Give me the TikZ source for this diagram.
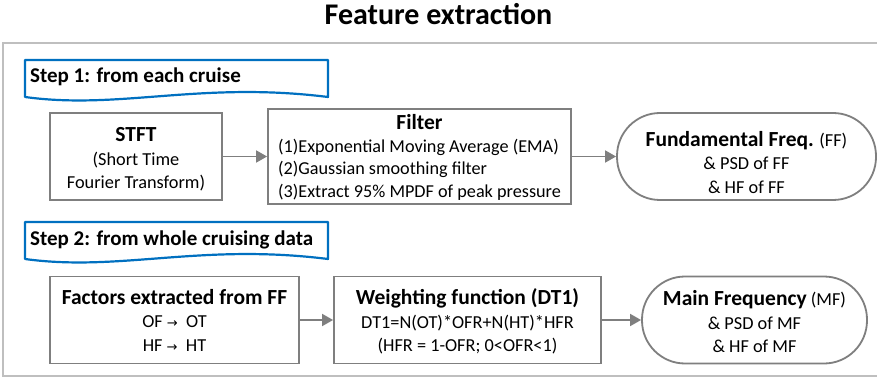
\documentclass[tikz,border=0pt]{standalone}
\usepackage{fontspec}
\setmainfont{Carlito}
\newfontfamily\arrowfont{DejaVu Sans}
\usetikzlibrary{arrows.meta}
\definecolor{boxgray}{HTML}{7F7F7F}
\definecolor{framegray}{HTML}{BFBFBF}
\definecolor{stepblue}{HTML}{0070C0}
\newcommand\boxhead[1]{{\fontsize{21.5}{23}\selectfont\bfseries #1}}
\newcommand\smallarrow{{\arrowfont\fontsize{13}{15}\selectfont →}}
\newcommand\topstrut[1]{\rule{0pt}{#1pt}}
\begin{document}
\begin{tikzpicture}[x=1pt,y=-1pt,
  box/.style={draw=boxgray, line width=1.8pt, rectangle, align=center, inner sep=0pt,
    font=\fontsize{18.3}{23.5}\selectfont},
  term/.style={box, rounded corners=43pt},
  arr/.style={draw=boxgray, line width=1.8pt, -{Triangle[length=11pt,width=12pt]}},
  banner/.style={draw=stepblue, line width=2.2pt, line join=round},
  bannertext/.style={anchor=base west, font=\fontsize{21}{24}\selectfont\bfseries, inner sep=0pt}
]
\useasboundingbox (0,0) rectangle (877,379);
\fill[white] (0,0) rectangle (877,379);

% title
\node[anchor=base, inner sep=0pt, font=\fontsize{30}{33}\selectfont\bfseries] (title) at (438.5,25) {Feature extraction};

% outer frame (open at the right, cut by the page)
\draw[framegray, line width=1.5pt] (890,43) -- (3,43) -- (3,376) -- (890,376);

% step banners
\draw[banner] (25,97) -- (25,60) -- (328,60) -- (328,97)
  .. controls (200,81) and (120,110) .. (25,97) -- cycle;
\node[bannertext] (step1) at (30,83) {Step 1: from each cruise};

\draw[banner] (25,259) -- (25,222) -- (328,222) -- (328,259)
  .. controls (200,243) and (120,272) .. (25,259) -- cycle;
\node[bannertext] (step2) at (30,245) {Step 2: from whole cruising data};

% step 1 row
\node[box, minimum width=172pt, minimum height=87pt] (stft) at (136,156.5)
  {\topstrut{20}\boxhead{STFT}\\(Short Time\\Fourier Transform)};
\node[box, minimum width=303pt, minimum height=87pt, font=\fontsize{18.2}{22.6}\selectfont] (filter) at (419.5,156.5)
  {\begin{tabular}{@{}l@{}}\multicolumn{1}{@{}c@{}}{\topstrut{21}\boxhead{Filter}}\\(1)Exponential Moving Average (EMA)\\(2)Gaussian smoothing filter\\(3)Extract 95\% MPDF of peak pressure\end{tabular}};
\node[term, minimum width=259pt, minimum height=87pt] (ff) at (746.5,156.5)
  {\topstrut{27}\boxhead{Fundamental Freq.} (FF)\\\& PSD of FF\\\& HF of FF};

\draw[arr] (stft) -- (filter);
\draw[arr] (filter) -- (ff);

% step 2 row
\node[box, minimum width=249pt, minimum height=87pt] (factors) at (174.5,320)
  {\boxhead{Factors extracted from FF}\\OF \smallarrow\ \ OT\\HF \smallarrow\ \ HT};
\node[box, minimum width=267pt, minimum height=87pt] (weight) at (467.5,320)
  {\topstrut{19}\boxhead{Weighting function (DT1)}\\DT1=N(OT)*OFR+N(HT)*HFR\\(HFR = 1-OFR; 0<OFR<1)};
\node[term, minimum width=225pt, minimum height=87pt] (mf) at (754.5,320)
  {\topstrut{19}\boxhead{Main Frequency} (MF)\\\& PSD of MF\\\& HF of MF};

\draw[arr] (factors) -- (weight);
\draw[arr] (weight) -- (mf);
\end{tikzpicture}
\end{document}
